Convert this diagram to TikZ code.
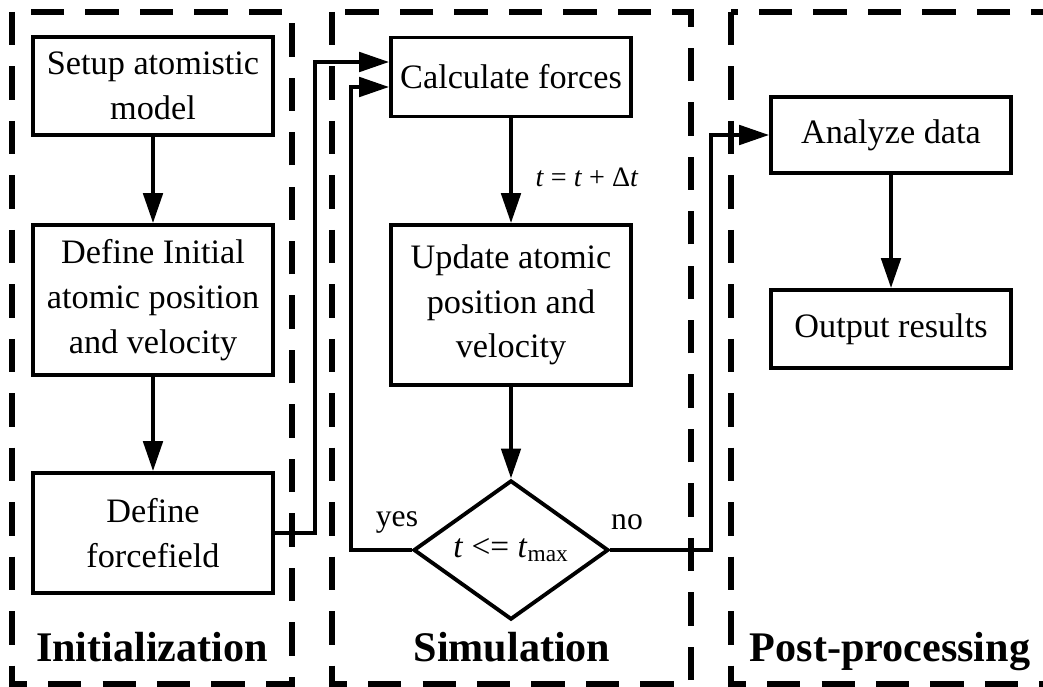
\documentclass[tikz,border=0pt]{standalone}
\usepackage{fontspec}
\setmainfont{Liberation Serif}
\usetikzlibrary{arrows.meta,shapes.geometric}

\begin{document}
\begin{tikzpicture}[x=0.02cm, y=-0.02cm,
		box/.style={draw, line width=2.2pt, minimum width=4.8cm, inner sep=0pt, align=center, font=\fontsize{19.5}{25.5}\selectfont},
		flow/.style={line width=2.2pt, -{Triangle[length=17pt, width=11pt]}},
		frame/.style={line width=3.3pt, dash pattern=on 19pt off 12pt},
		title/.style={anchor=base, font=\fontsize{24}{28}\selectfont\bfseries},
		note/.style={font=\fontsize{18}{22}\selectfont}]
		\useasboundingbox (0,0) rectangle (1043,686);
		
		% Stage frames
		\draw[frame] (12,12) rectangle (292,684);
		\draw[frame] (332,12) rectangle (691,684);
		\draw[frame] (731,12) rectangle (1070,684);
		\node[title] (initT) at (152,661) {Initialization};
		\node[title] (simT) at (512,661) {Simulation};
		\node[title] (postT) at (890,661) {Post-processing};
		
		% Initialization
		\node[box, minimum height=1.96cm] (setup) at (153,86) {Setup atomistic\\model};
		\node[box, minimum height=3cm] (init) at (153,300) {Define Initial\\atomic position\\and velocity};
		\node[box, minimum height=2.4cm] (field) at (153,533) {Define\\forcefield};
		\draw[flow] (setup) -- (init);
		\draw[flow] (init) -- (field);
		
		% Simulation loop
		\node[box, minimum height=1.58cm] (forces) at (511,77) {Calculate forces};
		\node[box, minimum height=3.2cm] (update) at (511,305) {Update atomic\\position and\\velocity};
		\node[draw, diamond, line width=2.2pt, minimum width=3.9cm, minimum height=2.5cm, inner sep=0pt,
			font=\fontsize{19}{22}\selectfont] (check) at (511,550) {\textit{t} <= \textit{t}\textsubscript{max}};
		\draw[flow] (forces) -- (update);
		\node[font=\fontsize{16}{19}\selectfont] (dt) at (587,177) {\textit{t} = \textit{t} + Δ\textit{t}};
		\draw[flow] (update) -- (check);
		\draw[flow] (field.east) -- ++(40,0) |- ([yshift=0.3cm]forces.west);
		\draw[flow] (check.west) -- ++(-61,0) |- ([yshift=-0.2cm]forces.west);
		\node[note] (yes) at (397,522) {yes};
		\node[note] (no) at (627,522) {no};
		
		% Post-processing
		\node[box, minimum height=1.52cm] (analyze) at (891,135) {Analyze data};
		\node[box, minimum height=1.56cm] (output) at (891,329) {Output results};
		\draw[flow] (check.east) -- ++(101,0) |- (analyze.west);
		\draw[flow] (analyze) -- (output);
	\end{tikzpicture}
\end{document}
